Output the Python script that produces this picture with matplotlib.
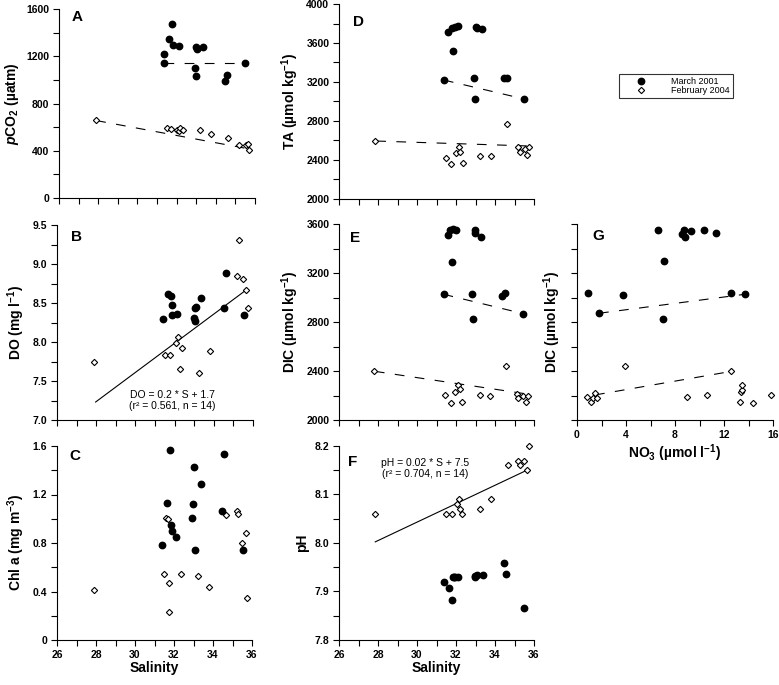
import numpy as np
import matplotlib
matplotlib.use("Agg")
import matplotlib.pyplot as plt
from matplotlib.ticker import MultipleLocator, NullFormatter

plt.rcParams['font.family'] = ['Liberation Sans', 'DejaVu Sans']
plt.rcParams['mathtext.fontset'] = 'custom'
plt.rcParams['mathtext.rm'] = 'Liberation Sans:bold'
plt.rcParams['mathtext.it'] = 'Liberation Sans:italic:bold'
plt.rcParams['mathtext.bf'] = 'Liberation Sans:bold'
plt.rcParams['lines.scale_dashes'] = False

# A: pCO2 vs salinity
sal_pco2_mar = [31.38, 31.76, 31.62, 31.84, 32.10, 31.37, 32.97, 33.02, 33.33, 32.93, 32.97, 34.47, 34.55, 35.49]
pco2_mar = [1144, 1470, 1346, 1296, 1287, 1217, 1282, 1262, 1276, 1101, 1034, 994, 1042, 1141]
sal_pco2_feb = [27.87, 31.49, 31.72, 32.01, 32.10, 32.18, 32.32, 33.20, 33.75, 34.60, 35.17, 35.56, 35.63, 35.71]
pco2_feb = [662, 594, 580, 572, 565, 592, 577, 575, 541, 504, 445, 445, 456, 406]
# fits: slope, intercept, x from, x to
fit_pco2_mar = [0.0, 1141, 31.38, 35.49]
fit_pco2_feb = [-30.8, 1515, 27.9, 35.66]

# D: TA vs salinity
sal_ta_mar = [31.38, 31.61, 31.78, 31.85, 31.97, 32.10, 32.92, 32.97, 33.01, 33.08, 33.35, 34.46, 34.62, 35.49]
ta_mar = [3220, 3716, 3757, 3515, 3767, 3774, 3238, 3026, 3767, 3754, 3740, 3241, 3241, 3026]
sal_ta_feb = [27.86, 31.50, 31.74, 32.02, 32.14, 32.22, 32.34, 33.23, 33.78, 34.63, 35.20, 35.26, 35.52, 35.66, 35.74]
ta_feb = [2598, 2417, 2359, 2468, 2530, 2479, 2369, 2441, 2444, 2766, 2533, 2485, 2513, 2451, 2533]
fit_ta_mar = [-47.2, 4701, 31.38, 35.49]
fit_ta_feb = [-6.5, 2776, 27.91, 35.78]

# B: DO vs salinity
sal_do_mar = [31.43, 31.66, 31.80, 31.88, 31.87, 32.14, 32.99, 33.02, 33.06, 33.11, 33.36, 34.52, 34.60, 35.52]
do_mar = [8.30, 8.61, 8.59, 8.48, 8.35, 8.36, 8.31, 8.27, 8.43, 8.45, 8.57, 8.44, 8.88, 8.35]
sal_do_feb = [27.90, 31.51, 31.78, 32.05, 32.17, 32.26, 32.36, 33.26, 33.79, 35.27, 35.20, 35.49, 35.66, 35.74]
do_feb = [7.74, 7.83, 7.83, 7.99, 8.06, 7.65, 7.92, 7.60, 7.88, 9.31, 8.84, 8.81, 8.67, 8.44]
fit_do_feb = [0.187, 2.0, 27.97, 35.66]

# E: DIC vs salinity
sal_dic_mar = [31.36, 31.58, 31.68, 31.82, 31.85, 32.02, 32.84, 32.89, 32.95, 32.98, 33.30, 34.38, 34.50, 35.44]
dic_mar = [3026, 3513, 3551, 3293, 3556, 3554, 3031, 2824, 3524, 3554, 3497, 3015, 3039, 2868]
sal_dic_feb = [27.81, 31.46, 31.72, 31.97, 32.09, 32.18, 32.30, 33.22, 33.73, 34.58, 35.15, 35.20, 35.44, 35.61, 35.69]
dic_feb = [2397, 2204, 2141, 2231, 2286, 2250, 2144, 2204, 2193, 2441, 2215, 2177, 2199, 2147, 2193]
fit_dic_mar = [-38.7, 4240, 31.36, 35.44]
fit_dic_feb = [-23.7, 3057, 27.84, 35.64]

# G: DIC vs NO3
no3_mar = [0.90, 1.80, 3.73, 6.61, 7.02, 7.10, 8.54, 8.76, 8.79, 9.33, 10.39, 11.32, 12.57, 13.71]
dic_no3_mar = [3039, 2871, 3018, 3554, 2824, 3295, 3516, 3554, 3494, 3546, 3554, 3524, 3034, 3026]
no3_feb = [0.82, 1.17, 1.33, 1.47, 1.63, 3.92, 9.00, 10.64, 12.60, 13.28, 13.36, 13.44, 13.50, 14.37, 15.81]
dic_no3_feb = [2190, 2144, 2182, 2218, 2182, 2438, 2190, 2201, 2397, 2144, 2231, 2245, 2283, 2139, 2201]
fit_no3_mar = [13.0, 2848, 1.8, 13.71]
fit_no3_feb = [17.3, 2179, 1.47, 12.6]

# C: Chl a vs salinity
sal_chl_mar = [31.40, 31.66, 31.78, 31.86, 31.88, 32.10, 32.94, 32.97, 33.01, 33.06, 33.37, 34.48, 34.58, 35.52]
chl_mar = [0.78, 1.13, 1.57, 0.95, 0.90, 0.85, 1.01, 1.12, 1.43, 0.74, 1.29, 1.06, 1.53, 0.74]
sal_chl_feb = [27.90, 31.50, 31.76, 31.60, 31.71, 31.76, 32.36, 33.25, 33.79, 34.65, 35.21, 35.26, 35.50, 35.67, 35.74]
chl_feb = [0.414, 0.546, 0.228, 1.01, 0.996, 0.467, 0.541, 0.527, 0.439, 1.035, 1.068, 1.037, 0.801, 0.884, 0.343]

# F: pH vs salinity
sal_ph_mar = [31.41, 31.65, 31.78, 31.85, 31.90, 31.96, 32.11, 32.95, 32.98, 33.08, 33.36, 34.46, 34.55, 35.49]
ph_mar = [7.919, 7.908, 7.882, 7.929, 7.930, 7.929, 7.930, 7.929, 7.932, 7.934, 7.933, 7.958, 7.936, 7.865]
sal_ph_feb = [27.86, 31.49, 31.78, 32.04, 32.14, 32.23, 32.33, 33.24, 33.78, 34.65, 35.20, 35.27, 35.50, 35.64, 35.74]
ph_feb = [8.059, 8.059, 8.059, 8.080, 8.090, 8.070, 8.059, 8.070, 8.090, 8.160, 8.170, 8.160, 8.170, 8.151, 8.201]
fit_ph_feb = [0.019, 7.473, 27.86, 35.64]

W, H = 779, 685
TICK_FS = 7.5
LABEL_FS = 10


def box(l, r, t, b):
    return [l / W, 1 - b / H, (r - l) / W, (b - t) / H]


def fit_line(ax, fit, dashed):
    x = np.array(fit[2:])
    y = fit[0] * x + fit[1]
    if dashed:
        ax.plot(x, y, color='black', lw=0.8, dashes=(7, 7.5))
    else:
        ax.plot(x, y, color='black', lw=0.8)


def panel(fig, rect, letter, letter_pos, xm, ym, xf, yf, ylim, ymaj, ymin,
          xlim=(26, 36), xmaj=2, xmin=1, xlabels=False, ylabels=True):
    ax = fig.add_axes(rect)
    hm, = ax.plot(xm, ym, 'o', color='black', ms=4.6, clip_on=False, zorder=3)
    hf, = ax.plot(xf, yf, 'D', mfc='white', mec='black', ms=3.2, mew=0.8,
                  clip_on=False, zorder=3)
    ax.set_xlim(xlim)
    ax.set_ylim(ylim)
    for s in ['top', 'right']:
        ax.spines[s].set_visible(False)
    for s in ['left', 'bottom']:
        ax.spines[s].set_linewidth(0.8)
    ax.xaxis.set_major_locator(MultipleLocator(xmaj))
    ax.xaxis.set_minor_locator(MultipleLocator(xmin))
    ax.yaxis.set_major_locator(MultipleLocator(ymaj))
    ax.yaxis.set_minor_locator(MultipleLocator(ymin))
    ax.tick_params(which='both', direction='out', length=4, width=0.8,
                   labelsize=TICK_FS, pad=3)
    if not xlabels:
        ax.xaxis.set_major_formatter(NullFormatter())
    if not ylabels:
        ax.yaxis.set_major_formatter(NullFormatter())
    for lab in ax.get_xticklabels() + ax.get_yticklabels():
        lab.set_fontweight('bold')
    ax.text(letter_pos[0], letter_pos[1], letter, transform=ax.transAxes,
            fontsize=11, fontweight='bold', ha='center', va='center')
    return ax, hm, hf


fig = plt.figure(figsize=(W / 100, H / 100), dpi=100)

axA, h_mar, h_feb = panel(fig, box(59, 255, 9, 198), 'A', (0.09, 0.96),
                          sal_pco2_mar, pco2_mar, sal_pco2_feb, pco2_feb,
                          (0, 1600), 400, 200)
fit_line(axA, fit_pco2_mar, True)
fit_line(axA, fit_pco2_feb, True)
axA.set_ylabel(r'$\mathit{p}$CO$_\mathrm{2}$ (µatm)', fontsize=LABEL_FS, fontweight='bold')

axD, _, _ = panel(fig, box(339, 534, 4, 199), 'D', (0.1, 0.91),
                  sal_ta_mar, ta_mar, sal_ta_feb, ta_feb,
                  (2000, 4000), 400, 200)
fit_line(axD, fit_ta_mar, True)
fit_line(axD, fit_ta_feb, True)
axD.set_ylabel(r'TA (µmol kg$^{\mathrm{-1}}$)', fontsize=LABEL_FS, fontweight='bold')

axB, _, _ = panel(fig, box(57, 253, 225, 420), 'B', (0.1, 0.94),
                  sal_do_mar, do_mar, sal_do_feb, do_feb,
                  (7.0, 9.5), 0.5, 0.25)
axB.yaxis.set_major_formatter(plt.FormatStrFormatter('%.1f'))
for lab in axB.get_yticklabels():
    lab.set_fontweight('bold')
fit_line(axB, fit_do_feb, False)
axB.set_ylabel(r'DO (mg l$^{\mathrm{-1}}$)', fontsize=LABEL_FS, fontweight='bold')
axB.text(0.59, 0.10, 'DO = 0.2 * S + 1.7\n(r² = 0.561, n = 14)', transform=axB.transAxes,
         fontsize=7.5, ha='center', va='center', linespacing=1.15)

axE, _, _ = panel(fig, box(339, 534, 224, 420), 'E', (0.08, 0.93),
                  sal_dic_mar, dic_mar, sal_dic_feb, dic_feb,
                  (2000, 3600), 400, 200)
fit_line(axE, fit_dic_mar, True)
fit_line(axE, fit_dic_feb, True)
axE.set_ylabel(r'DIC (µmol kg$^{\mathrm{-1}}$)', fontsize=LABEL_FS, fontweight='bold')

axG, _, _ = panel(fig, box(577, 773, 224, 420), 'G', (0.11, 0.94),
                  no3_mar, dic_no3_mar, no3_feb, dic_no3_feb,
                  (2000, 3600), 200, 200, xlim=(0, 16), xmaj=4, xmin=2,
                  xlabels=True, ylabels=False)
fit_line(axG, fit_no3_mar, True)
fit_line(axG, fit_no3_feb, True)
axG.set_ylabel(r'DIC (µmol kg$^{\mathrm{-1}}$)', fontsize=LABEL_FS, fontweight='bold', labelpad=3)
axG.set_xlabel(r'NO$_\mathrm{3}$ (µmol l$^{\mathrm{-1}}$)', fontsize=LABEL_FS, fontweight='bold', labelpad=2)

axC, _, _ = panel(fig, box(57, 252, 446, 640), 'C', (0.09, 0.95),
                  sal_chl_mar, chl_mar, sal_chl_feb, chl_feb,
                  (0, 1.6), 0.4, 0.2, xlabels=True)
axC.yaxis.set_major_formatter(plt.FuncFormatter(lambda v, p: '0' if v == 0 else '%.1f' % v))
for lab in axC.get_yticklabels():
    lab.set_fontweight('bold')
axC.set_ylabel(r'Chl a (mg m$^{\mathrm{-3}}$)', fontsize=LABEL_FS, fontweight='bold')
axC.set_xlabel('Salinity', fontsize=LABEL_FS, fontweight='bold', labelpad=1)

axF, _, _ = panel(fig, box(339, 534, 446, 640), 'F', (0.07, 0.92),
                  sal_ph_mar, ph_mar, sal_ph_feb, ph_feb,
                  (7.8, 8.2), 0.1, 0.05, xlabels=True)
axF.yaxis.set_major_formatter(plt.FormatStrFormatter('%.1f'))
for lab in axF.get_yticklabels():
    lab.set_fontweight('bold')
fit_line(axF, fit_ph_feb, False)
axF.set_ylabel('pH', fontsize=LABEL_FS, fontweight='bold')
axF.set_xlabel('Salinity', fontsize=LABEL_FS, fontweight='bold', labelpad=1)
axF.text(0.44, 0.885, 'pH = 0.02 * S + 7.5\n(r² = 0.704, n = 14)', transform=axF.transAxes,
         fontsize=7.5, ha='center', va='center', linespacing=1.15)

leg = fig.legend([h_mar, h_feb], ['March 2001', 'February 2004'],
                 loc='upper left', bbox_to_anchor=(619 / W, 1 - 74 / H),
                 fontsize=6.5, frameon=True, fancybox=False, edgecolor='black',
                 handlelength=4.2, handletextpad=1.3, borderpad=0.3,
                 labelspacing=0.05, borderaxespad=0)
leg.get_frame().set_linewidth(0.8)

fig.savefig('out.png', dpi=100)
